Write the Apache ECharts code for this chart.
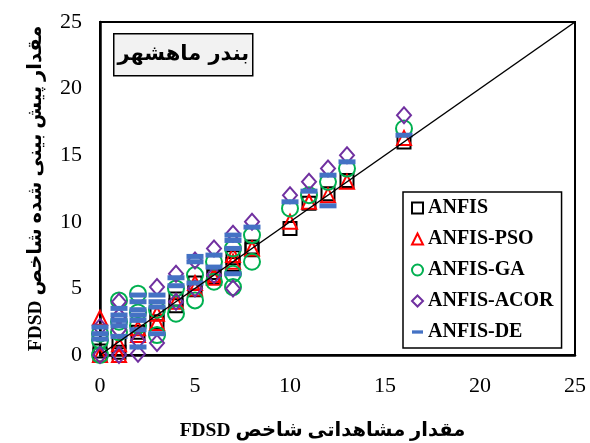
<!DOCTYPE html>
<html><head><meta charset="utf-8">
<script src="https://cdn.jsdelivr.net/npm/echarts@6/dist/echarts.min.js"></script>
<style>html,body{margin:0;padding:0;background:#fff}#main{width:590px;height:443px}</style>
</head><body><div id="main"></div>
<script>
const axisMin = 0, axisMax = 25, axisStep = 5;
const seriesNames = ['ANFIS','ANFIS-PSO','ANFIS-GA','ANFIS-ACOR','ANFIS-DE'];
const titleText = 'بندر ماهشهر';
const xTitle = 'مقدار مشاهداتی شاخص FDSD';
const yTitle = 'مقدار پیش بینی شده شاخص FDSD';

const anfis = [[0,0],[0,0.3],[1,1],[1,0.2],[2,1.7],[3,2.5],[3,3.1],[4,3.7],[4,4.2],[5,4.9],[5,5.4],[6,6.2],[6,5.9],[7,7.3],[7,6.8],[8,8.1],[8,7.9],[10,9.5],[11,11.4],[12,12.1],[13,13.1],[16,16]];
const pso = [[0,0],[0,2.8],[1,0],[1,0.8],[2,2],[2,1.5],[3,2.4],[3,3.1],[4,4],[5,5],[5,5.4],[6,6],[6,5.8],[7,7],[7,7.5],[8,8],[10,10],[11,11.5],[12,12],[13,13],[16,16.3]];
const ga = [[0,0],[0,1.1],[0,1.6],[1,1.7],[1,2.5],[1,4.1],[2,2.2],[2,3.2],[2,4.6],[3,1.5],[3,3.4],[4,3.1],[4,5],[5,4.1],[5,6],[6,7],[6,5.5],[7,5.1],[7,6.1],[7,8],[8,7],[8,9],[10,11],[11,12],[12,13],[13,14],[16,17]];
const acor = [[0,0],[0,2.1],[1,0],[1,1.9],[1,2.9],[1,4],[2,0.1],[2,1.1],[3,0.9],[3,5.1],[4,4],[4,6.1],[5,5],[5,7.1],[6,6],[6,8],[7,5],[7,9.1],[8,10],[10,12],[11,13],[12,14],[13,15],[16,18]];
const de = [[0,1.6],[0,2.1],[0,1.2],[1,1.4],[1,2.2],[1,2.6],[1,3],[1,3.5],[2,0.6],[2,1.9],[2,2.6],[2,3],[2,3.4],[2,4],[2,4.5],[3,1.6],[3,3.6],[3,4],[3,4.5],[4,5.2],[4,5.8],[5,5.4],[5,7],[5,7.4],[6,6.6],[6,7.5],[7,6.1],[7,8],[7,8.6],[7,9],[8,9.6],[10,11.5],[11,12.3],[12,11.2],[12,13.5],[13,14.5],[16,16.5]];
const lineEnds = [[0,0],[25,25]];

const RLE = '\u202B', PDF = '\u202C';
const serif = "'Liberation Serif', 'DejaVu Sans', serif";
const chart = echarts.init(document.getElementById('main'), null, {renderer:'canvas'});

function hollow(name, data, symbol, size, color){
  return {name, type:'scatter', data, symbol, symbolSize:size, clip:false,
    itemStyle:{color:'rgba(0,0,0,0)', borderColor:color, borderWidth:2, opacity:1}};
}
const axisCommon = {
  type:'value', min:axisMin, max:axisMax, interval:axisStep,
  axisLine:{show:true, onZero:false, lineStyle:{color:'#000', width:2.5}},
  axisTick:{show:false}, splitLine:{show:false},
  nameLocation:'middle',
  nameTextStyle:{fontFamily:serif, fontWeight:'bold', fontSize:19.5, color:'#000'}
};
chart.setOption({
  animation:false,
  backgroundColor:'#fff',
  grid:{left:100, top:22, right:15, bottom:88, outerBoundsMode:'none', containLabel:false,
    show:true, borderColor:'#000', borderWidth:2, backgroundColor:'transparent'},
  xAxis:Object.assign({}, axisCommon, {
    name: RLE + xTitle + PDF, nameGap:66,
    nameTextStyle:Object.assign({}, axisCommon.nameTextStyle, {padding:[0,30,0,0]}),
    axisLabel:{color:'#000', fontFamily:serif, fontSize:22, margin:20}
  }),
  yAxis:Object.assign({}, axisCommon, {
    name: RLE + yTitle + PDF, nameGap:54,
    axisLabel:{color:'#000', fontFamily:serif, fontSize:22, margin:18}
  }),
  legend:{
    orient:'vertical', left:403, top:192, padding:[6,8,6,8], itemGap:11,
    itemWidth:11, itemHeight:11, backgroundColor:'#fff', borderColor:'#000', borderWidth:1.5,
    textStyle:{fontFamily:serif, fontWeight:'bold', fontSize:20, color:'#000'},
    data:[
      {name:seriesNames[0]},{name:seriesNames[1]},{name:seriesNames[2]},{name:seriesNames[3]},
      {name:seriesNames[4], icon:'path://M0,0h10v3h-10z'}
    ]
  },
  graphic:[{
    type:'group', left:113, top:33,
    children:[
      {type:'rect', shape:{x:0,y:0,width:139,height:42}, style:{fill:'#f2f2f2', stroke:'#000', lineWidth:1.5}},
      {type:'text', x:69.5, y:21, style:{text:titleText, align:'center', verticalAlign:'middle', font:"bold 21px 'DejaVu Sans'", fill:'#000'}}
    ]
  }],
  series:[
    hollow(seriesNames[0], anfis, 'rect', 13, '#000000'),
    hollow(seriesNames[1], pso, 'triangle', 14, '#FF0000'),
    hollow(seriesNames[2], ga, 'circle', 16, '#00B050'),
    hollow(seriesNames[3], acor, 'diamond', [14,16], '#7030A0'),
    {name:seriesNames[4], type:'scatter', data:de, symbol:'rect', symbolSize:[17,5], clip:false,
      itemStyle:{color:'#4472C4', opacity:1}},
    {name:'diag', type:'line', data:lineEnds, symbol:'none', silent:true, z:5,
      lineStyle:{color:'#000', width:1.5}}
  ]
});
</script></body></html>
